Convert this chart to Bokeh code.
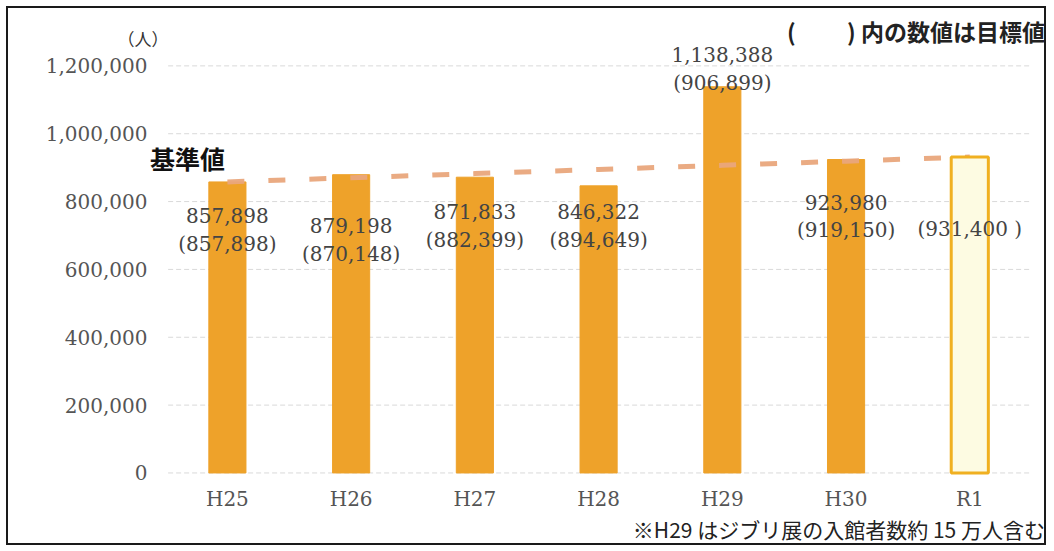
from bokeh.plotting import figure
from bokeh.models import Range1d, ColumnDataSource, Label, NumeralTickFormatter, FixedTicker
from bokeh.core.properties import value
from bokeh.embed import file_html
from bokeh.resources import INLINE

# ---- data ----
categories = ["H25", "H26", "H27", "H28", "H29", "H30", "R1"]
actual = [857898, 879198, 871833, 846322, 1138388, 923980]
target = [857898, 870148, 882399, 894649, 906899, 919150, 931400]
y_ticks = [0, 200000, 400000, 600000, 800000, 1000000, 1200000]

xpos = list(range(len(categories)))

def fmt(v):
    return f"{v:,}"

label_text = [f"{fmt(a)}\n({fmt(t)})" for a, t in zip(actual, target[:6])] + [f"({fmt(target[6])} )"]
label_anchor = actual + [target[6]]
label_dy = [48, 65, 49, 40, -18, 57, 72]   # pixel offsets (styling)

ORANGE = "#eea22a"
SERIF = "DejaVu Serif"
CJK = "Noto Sans CJK JP"

p = figure(x_range=Range1d(-0.864, 6.62),
           y_range=Range1d(-219800, 1351470),
           width=1040, height=539,
           output_backend="svg", toolbar_location=None,
           min_border_left=112, min_border_right=2,
           min_border_top=6, min_border_bottom=0)
p.styles = {"border": "2px solid #1a1a1a", "margin-left": "6px", "margin-top": "6px"}
p.outline_line_color = None
p.background_fill_color = "white"
p.border_fill_color = "white"
p.xgrid.grid_line_color = None
p.ygrid.grid_line_color = None

# horizontal grid limited to the plot region
gsrc = ColumnDataSource(dict(y=y_ticks))
p.segment(x0=-0.479, x1=6.5, y0="y", y1="y", source=gsrc,
          line_color="#d9d9d9", line_dash="5 3", line_width=1)

p.yaxis.ticker = FixedTicker(ticks=y_ticks)
p.yaxis.formatter = NumeralTickFormatter(format="0,0")
p.xaxis.ticker = FixedTicker(ticks=xpos)
p.xaxis.major_label_overrides = {i: c for i, c in zip(xpos, categories)}
for ax in (p.xaxis, p.yaxis):
    ax.axis_line_color = None
    ax.major_tick_line_color = None
    ax.minor_tick_line_color = None
    ax.major_label_text_font = SERIF
    ax.major_label_text_font_size = "20px"
    ax.major_label_text_color = "#555555"
p.yaxis.major_label_standoff = -33
p.xaxis.major_label_standoff = -67

# bars (actual)
src = ColumnDataSource(dict(x=xpos[:6], top=actual))
p.vbar(x="x", top="top", width=0.3, source=src, fill_color=ORANGE, line_color=ORANGE)

# target dashed line
tsrc = ColumnDataSource(dict(x=xpos, y=target))
p.line(x="x", y="y", source=tsrc, line_color="#e9a67c", line_width=5, line_dash="17 24", line_alpha=0.95)

# R1 target bar (hollow)
rsrc = ColumnDataSource(dict(x=xpos[6:], top=target[6:]))
p.vbar(x="x", top="top", width=0.3, source=rsrc, fill_color="#fdfbe2",
       line_color="#f0b020", line_width=3)

# data labels
lsrc = ColumnDataSource(dict(x=xpos, y=label_anchor, text=label_text, dy=label_dy))
p.text(x="x", y="y", text="text", y_offset="dy", source=lsrc,
       text_font=value(SERIF), text_font_size="20px", text_color="#444444",
       text_align="center", text_baseline="middle", text_line_height=1.16)

# annotations
p.add_layout(Label(x=-0.682, y=1280000, text="（人）", text_font=CJK, text_font_size="17px",
                   text_color="#333333", text_align="center", text_baseline="middle"))
p.add_layout(Label(x=-0.625, y=928000, text="基準値", text_font=CJK, text_font_size="25px",
                   text_font_style="bold", text_color="#111111", text_align="left", text_baseline="middle"))
p.add_layout(Label(x=6.607, y=1304000, text="(　　 ) 内の数値は目標値", text_font=CJK, text_font_size="23px",
                   text_font_style="bold", text_color="#222222", text_align="right", text_baseline="middle"))
p.add_layout(Label(x=6.607, y=-166300, text="※H29 はジブリ展の入館者数約 15 万人含む", text_font=CJK,
                   text_font_size="21px", text_color="#222222", text_align="right", text_baseline="middle"))

open("out.html", "w").write(file_html(p, INLINE))
